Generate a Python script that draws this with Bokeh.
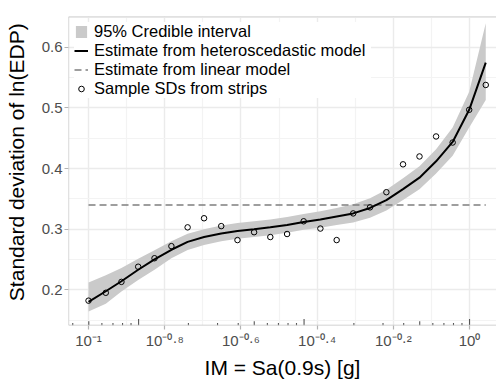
import math
from bokeh.plotting import figure
from bokeh.models import FixedTicker, Legend, LegendItem, Span, CustomJSTickFormatter
from bokeh.embed import file_html
from bokeh.resources import INLINE

# ---------------- data ----------------
im = [0.100, 0.111, 0.122, 0.135, 0.149, 0.165, 0.182, 0.201, 0.223, 0.246,
      0.272, 0.300, 0.332, 0.367, 0.406, 0.448, 0.495, 0.548, 0.605, 0.669,
      0.739, 0.817, 0.903, 0.998, 1.103]
sample_sd = [0.182, 0.195, 0.213, 0.238, 0.252, 0.272, 0.303, 0.318, 0.305, 0.282,
             0.295, 0.287, 0.292, 0.313, 0.301, 0.282, 0.326, 0.336, 0.361, 0.407,
             0.420, 0.453, 0.443, 0.497, 0.538]
estimate = [0.180, 0.1975, 0.214, 0.233, 0.250, 0.266, 0.279, 0.287, 0.293, 0.297,
            0.300, 0.303, 0.307, 0.312, 0.316, 0.321, 0.326, 0.335, 0.348, 0.366,
            0.385, 0.412, 0.444, 0.497, 0.575]
ci_upper = [0.212, 0.224, 0.236, 0.251, 0.265, 0.280, 0.2925, 0.300, 0.306, 0.310,
            0.313, 0.316, 0.320, 0.325, 0.3295, 0.335, 0.341, 0.351, 0.365, 0.384,
            0.404, 0.432, 0.468, 0.527, 0.640]
ci_lower = [0.164, 0.177, 0.197, 0.216, 0.233, 0.252, 0.2655, 0.274, 0.280, 0.284,
            0.287, 0.290, 0.294, 0.299, 0.3025, 0.307, 0.311, 0.319, 0.331, 0.348,
            0.366, 0.392, 0.421, 0.468, 0.513]
linear_sd = 0.34

x_tick_exponents = [-1, -0.8, -0.6, -0.4, -0.2, 0]
x_tick_labels = ["10\u207b\u00b9", "10\u207b\u2070\u00b7\u2078", "10\u207b\u2070\u00b7\u2076",
                 "10\u207b\u2070\u00b7\u2074", "10\u207b\u2070\u00b7\u00b2", "10\u2070"]
x_minor_exponents = [-0.9, -0.7, -0.5, -0.3, -0.1]
y_ticks = [0.2, 0.3, 0.4, 0.5, 0.6]
y_minor = [0.15, 0.25, 0.35, 0.45, 0.55, 0.65]

# log-tick annotation along the bottom (powers and multipliers)
logtick_powers = [-3, -2, -1, 0]
logtick_mult = [1, 2, 3, 4, 5, 6, 7, 8, 9]

x_lo, x_hi = 0.0886, 1.177
y_lo, y_hi = 0.141, 0.651

FONT = "Liberation Sans"
W, H = 496, 381
MB_L, MB_R, MB_T, MB_B = 68, 0, 16, 54
NBSP = "\u00a0"

p = figure(width=W, height=H, x_axis_type="log",
           x_range=(x_lo, x_hi), y_range=(y_lo, y_hi),
           output_backend="svg", toolbar_location=None,
           min_border_left=MB_L, min_border_right=MB_R,
           min_border_top=MB_T, min_border_bottom=MB_B)
p.background_fill_color = "white"
p.border_fill_color = "white"
p.outline_line_color = None

p.xaxis.ticker = FixedTicker(ticks=[10 ** e for e in x_tick_exponents],
                             minor_ticks=[10 ** e for e in x_minor_exponents])
p.yaxis.ticker = FixedTicker(ticks=y_ticks, minor_ticks=y_minor)
p.xaxis.formatter = CustomJSTickFormatter(args=dict(labels=x_tick_labels),
                                          code="return labels[index];")
for g in (p.xgrid, p.ygrid):
    g.grid_line_color = "#EBEBEB"
    g.grid_line_width = 1.4
    g.minor_grid_line_color = "#F3F3F3"
    g.minor_grid_line_width = 1.2

# band, lines, points
band = p.varea(x=im, y1=ci_lower, y2=ci_upper, fill_color="#CACACA")
lin = p.line(x=[im[0], im[-1]], y=[linear_sd, linear_sd], line_color="#7F7F7F",
             line_width=1.6, line_dash="7 4")
est = p.line(x=im, y=estimate, line_color="black", line_width=2)
pts = p.scatter(x=im, y=sample_sd, marker="circle", size=5.5, fill_color=None,
                line_color="black", line_width=1)

# bottom log ticks
frame_h = H - MB_T - MB_B
per_px = (y_hi - y_lo) / frame_h
lt_x, lt_y0, lt_y1 = [], [], []
for n in logtick_powers:
    for k in logtick_mult:
        v = math.exp(n + math.log10(k))
        if x_lo < v < x_hi:
            L = 6.5 if k == 1 else (4.2 if k == 5 else 2.4)
            lt_x.append(v)
            lt_y0.append(y_lo)
            lt_y1.append(y_lo + L * per_px)
p.segment(x0=lt_x, y0=lt_y0, x1=lt_x, y1=lt_y1, line_color="#555555", line_width=1.1)

# axes
for ax in (p.xaxis[0], p.yaxis[0]):
    ax.axis_line_color = None
    ax.major_tick_line_color = "#B3B3B3"
    ax.major_tick_line_width = 1.2
    ax.major_tick_out = 4
    ax.major_tick_in = 0
    ax.minor_tick_line_color = None
    ax.major_label_text_font = FONT
    ax.major_label_text_font_size = "15px"
    ax.major_label_text_color = "#4D4D4D"
    ax.major_label_standoff = 2
    ax.axis_label_text_font = FONT
    ax.axis_label_text_font_size = "21px"
    ax.axis_label_text_font_style = "normal"
    ax.axis_label_text_color = "black"

p.yaxis[0].axis_label = NBSP * 3 + "Standard deviation of ln(EDP)"
p.yaxis[0].axis_label_standoff = 11
p.xaxis[0].axis_label = "IM = Sa(0.9s) [g]"
p.xaxis[0].axis_label_standoff = 4

# panel border (top first so the legend covers it)
BORDER = "#C4C4C4"
p.add_layout(Span(location=y_hi, dimension="width", line_color=BORDER, line_width=1.3))

legend = Legend(items=[
    LegendItem(label="95% Credible interval", renderers=[band]),
    LegendItem(label="Estimate from heteroscedastic model", renderers=[est]),
    LegendItem(label="Estimate from linear model", renderers=[lin]),
    LegendItem(label="Sample SDs from strips", renderers=[pts]),
], location="top_left", padding=6, spacing=0, margin=6,
    glyph_width=14, glyph_height=15, label_standoff=6, label_width=277,
    label_height=16,
    label_text_font=FONT, label_text_font_size="16.5px", label_text_color="black",
    background_fill_color="white", background_fill_alpha=1.0,
    border_line_color=None)
p.add_layout(legend, "center")

p.add_layout(Span(location=x_lo, dimension="height", line_color=BORDER, line_width=1.3))
p.add_layout(Span(location=y_lo, dimension="width", line_color=BORDER, line_width=1.3))

open("out.html", "w").write(file_html(p, INLINE))
